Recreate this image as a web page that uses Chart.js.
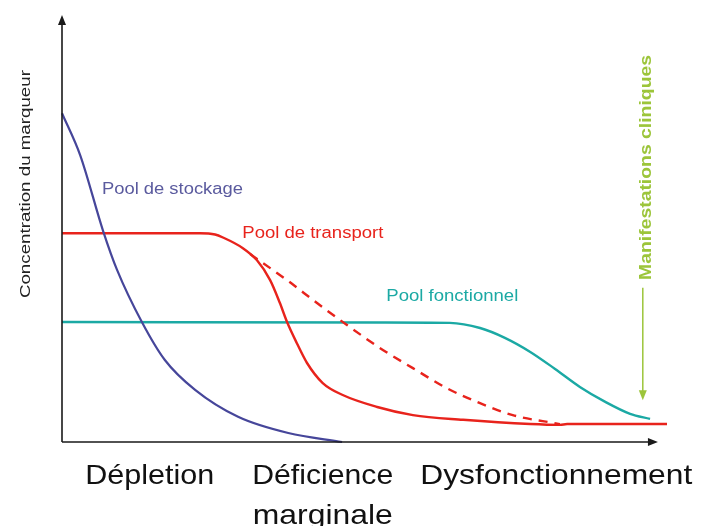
<!DOCTYPE html>
<html>
<head>
<meta charset="utf-8">
<script src="https://cdn.jsdelivr.net/npm/chart.js@4/dist/chart.umd.min.js"></script>
<style>
html,body{margin:0;padding:0;background:#fff;}
#wrap{width:711px;height:526px;}
</style>
</head>
<body>
<div id="wrap"><canvas id="c" width="711" height="526"></canvas></div>
<script>
// ---- Data (x: time/stage units 0-100, y: marker concentration 0-100) ----
const storageX = [0, 3.0, 6.8, 9.1, 13.2, 17.0, 22.0, 29.1, 37.4, 46.3];
const storageY = [77.0, 67.2, 49.4, 40.3, 28.1, 19.2, 12.2, 5.9, 2.1, 0];

const transportX = [0, 22.8, 25.3, 26.6, 29.9, 32.2, 34.4, 36.0, 37.2, 38.8, 40.5, 43.1, 46.4, 52.1, 58.0, 66.3, 77.4, 82.3, 83.5, 100];
const transportY = [48.9, 48.9, 48.6, 47.9, 45.4, 42.6, 37.9, 32.6, 28.1, 23.2, 18.5, 13.8, 11.0, 8.2, 6.3, 5.2, 4.2, 4.0, 4.2, 4.2];

const transportAltX = [31.1, 37.2, 42.1, 47.1, 53.1, 58.0, 63.6, 69.1, 74.5, 82.3];
const transportAltY = [44.0, 37.9, 32.6, 27.4, 21.5, 17.3, 12.6, 9.1, 6.3, 4.2];

const functionalX = [0, 52.6, 64.1, 69.1, 73.2, 77.4, 81.5, 85.6, 89.8, 93.9, 97.2];
const functionalY = [28.1, 28.0, 27.9, 26.7, 24.4, 21.1, 17.1, 12.9, 9.4, 6.6, 5.4];

// stage labels (x positions in data units)
const stageLabels = [["Dépletion"], ["Déficience", "marginale"], ["Dysfonctionnement"]];
const stageX = [14.5, 43.1, 81.7];

const seriesNames = ["Pool de stockage", "Pool de transport", "Pool fonctionnel"];
const seriesLabelX = [6.6, 29.8, 53.6];
const seriesLabelY = [59.5, 49.2, 34.4];

const yTitle = "Concentration du marqueur";
const clinicalText = "Manifestations cliniques";
const clinicalX = 96.0;
const clinicalArrowY = [36.1, 9.8];
const clinicalTextY = 64.3;

const C_PURPLE = "#46469a";
const C_RED = "#e8231c";
const C_TEAL = "#1ba9a4";
const C_GREEN = "#9cc53a";

const pts = (xs, ys) => xs.map((x, i) => ({x: x, y: ys[i]}));

function drawText(ctx, text, x, y, font, color, opts) {
  opts = opts || {};
  ctx.save();
  ctx.font = font;
  ctx.fillStyle = color;
  ctx.textBaseline = opts.baseline || "alphabetic";
  ctx.textAlign = "left";
  ctx.translate(x, y);
  if (opts.rotate) ctx.rotate(opts.rotate);
  const w = ctx.measureText(text).width;
  let sx = 1;
  if (opts.width) sx = opts.width / w;
  ctx.scale(sx, 1);
  let dx = 0;
  if (opts.align === "center") dx = -w / 2;
  else if (opts.align === "right") dx = -w;
  ctx.fillText(text, dx, 0);
  ctx.restore();
}

const decor = {
  id: "decor",
  afterDraw(chart) {
    const ctx = chart.ctx;
    const xs = chart.scales.x, ys = chart.scales.y;
    const x0 = xs.getPixelForValue(0), y0 = ys.getPixelForValue(0);
    const yTop = ys.getPixelForValue(100);
    const xEnd = xs.getPixelForValue(98.5);
    ctx.save();
    ctx.strokeStyle = "#1a1a1a";
    ctx.fillStyle = "#1a1a1a";
    ctx.lineWidth = 1.6;
    ctx.beginPath();
    ctx.moveTo(x0, y0); ctx.lineTo(x0, yTop + 6);
    ctx.moveTo(x0, y0); ctx.lineTo(xEnd - 6, y0);
    ctx.stroke();
    ctx.beginPath();
    ctx.moveTo(x0, yTop); ctx.lineTo(x0 - 4, yTop + 10); ctx.lineTo(x0 + 4, yTop + 10); ctx.closePath();
    ctx.fill();
    ctx.beginPath();
    ctx.moveTo(xEnd, y0); ctx.lineTo(xEnd - 10, y0 - 4); ctx.lineTo(xEnd - 10, y0 + 4); ctx.closePath();
    ctx.fill();
    ctx.restore();

    // clinical arrow
    const ax = xs.getPixelForValue(clinicalX);
    const a1 = ys.getPixelForValue(clinicalArrowY[0]);
    const a2 = ys.getPixelForValue(clinicalArrowY[1]);
    ctx.save();
    ctx.strokeStyle = C_GREEN; ctx.fillStyle = C_GREEN; ctx.lineWidth = 1.5;
    ctx.beginPath(); ctx.moveTo(ax, a1); ctx.lineTo(ax, a2 - 6); ctx.stroke();
    ctx.beginPath(); ctx.moveTo(ax, a2); ctx.lineTo(ax - 4, a2 - 10); ctx.lineTo(ax + 4, a2 - 10); ctx.closePath(); ctx.fill();
    ctx.restore();
    drawText(ctx, clinicalText, ax + 8, ys.getPixelForValue(clinicalTextY), "bold 17px 'Liberation Sans', Arial, sans-serif", C_GREEN,
      {rotate: -Math.PI / 2, align: "center", width: 225});

    // y title
    drawText(ctx, yTitle, 30, ys.getPixelForValue(60.4), "15px 'Liberation Sans', Arial, sans-serif", "#222",
      {rotate: -Math.PI / 2, align: "center", width: 228});

    // series labels
    const cols = ["#5a5a9e", C_RED, C_TEAL];
    const lw = [141, 141, 132];
    seriesNames.forEach((n, i) => {
      drawText(ctx, n, xs.getPixelForValue(seriesLabelX[i]), ys.getPixelForValue(seriesLabelY[i]) + 6,
        "16px 'Liberation Sans', Arial, sans-serif", cols[i], {width: lw[i]});
    });

    // stage labels
    const widths = [[129], [141, 140], [272]];
    stageLabels.forEach((lines, i) => {
      lines.forEach((t, j) => {
        drawText(ctx, t, xs.getPixelForValue(stageX[i]), y0 + 42 + j * 40,
          "28px 'Liberation Sans', Arial, sans-serif", "#111", {align: "center", width: widths[i][j]});
      });
    });
  }
};

new Chart(document.getElementById("c"), {
  type: "line",
  data: {
    datasets: [
      {label: seriesNames[0], data: pts(storageX, storageY), borderColor: C_PURPLE, borderWidth: 2.2},
      {label: seriesNames[1], data: pts(transportX, transportY), borderColor: C_RED, borderWidth: 2.4},
      {label: seriesNames[1] + " (alt)", data: pts(transportAltX, transportAltY), borderColor: C_RED, borderWidth: 2.4, borderDash: [9, 7]},
      {label: seriesNames[2], data: pts(functionalX, functionalY), borderColor: C_TEAL, borderWidth: 2.4}
    ]
  },
  options: {
    responsive: false,
    animation: false,
    events: [],
    clip: false,
    elements: {point: {radius: 0}, line: {cubicInterpolationMode: "monotone", fill: false}},
    layout: {padding: {left: 62, right: 44, top: 15, bottom: 84}},
    plugins: {legend: {display: false}, tooltip: {enabled: false}},
    scales: {
      x: {type: "linear", min: 0, max: 100, display: false},
      y: {type: "linear", min: 0, max: 100, display: false}
    }
  },
  plugins: [decor]
});
</script>
</body>
</html>
